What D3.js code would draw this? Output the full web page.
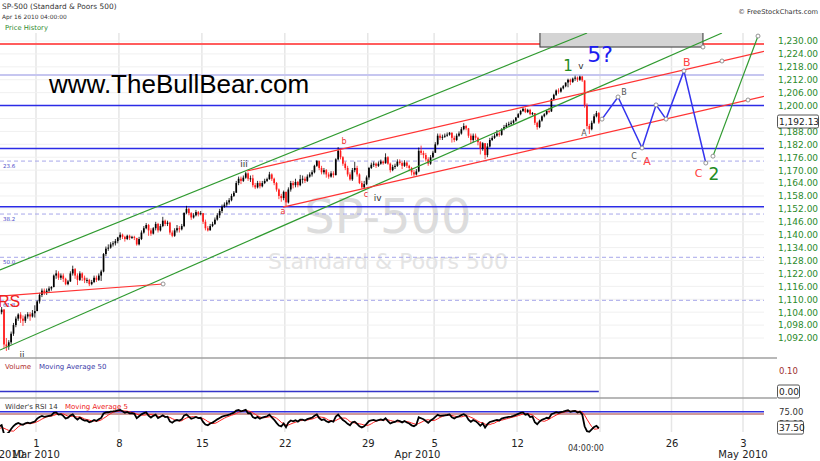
<!DOCTYPE html>
<html>
<head>
<meta charset="utf-8">
<script src="https://cdn.jsdelivr.net/npm/d3@7/dist/d3.min.js"></script>
<style>
body { margin: 0; background: #fff; }
svg { display: block; font-family: "DejaVu Sans", Verdana, sans-serif; }
</style>
</head>
<body>
<script>
// ---- data: hourly bars, 7 per session ----
// session index 0 = Mon Mar 1 2010 (negative = late Feb)
var sessions = d3.range(-5, 34);
var firstOpen = 1110.2;

var closes = [
  [1110,1111,1109,1110,1108,1107,1108.0],      // Feb 22
  [1104,1101,1099,1097,1098,1096,1094.6],      // Feb 23
  [1099,1101,1100,1102,1103,1104,1105.2],      // Feb 24
  [1089,1088,1090,1094,1098,1101,1102.9],      // Feb 25
  [1101,1100,1102,1103,1102,1103.5,1104.5],    // Feb 26
  [1109,1112,1114,1113,1114,1115,1115.7],      // Mar 1
  [1121,1122,1120,1121,1119.5,1117,1118.3],
  [1122,1124,1121,1119,1122,1120,1118.8],
  [1119,1117,1118,1120,1119,1121,1122.9],
  [1131,1133.5,1134,1135.5,1136,1137,1138.7],
  [1140,1139,1138,1139.5,1138.5,1139,1138.5],  // Mar 8
  [1135.5,1138,1141,1143,1144.5,1142,1140.5],
  [1143,1145,1142,1144,1146.5,1145,1145.6],
  [1141,1139.5,1142,1143,1142.5,1144,1150.2],
  [1152,1150,1148,1149,1150.5,1149.5,1150],
  [1146,1143,1142,1144,1145,1147,1149],        // Mar 15
  [1151,1153,1154,1155,1156,1158,1159.5],
  [1164,1166,1165,1166.5,1168.5,1166,1166.2],
  [1163,1162,1164,1162.5,1164,1165,1165.8],
  [1168,1166,1164,1161,1158,1157,1159.9],
  [1155,1161,1164,1163,1164.5,1163,1165.8],    // Mar 22
  [1166,1165,1167,1168,1169,1172,1174.2],
  [1171,1169,1170,1168,1167,1168.5,1167.7],
  [1175,1179,1176,1173,1171,1168,1165.7],
  [1170,1171,1168,1164,1162,1163.5,1166.6],
  [1171,1172.5,1173,1172,1173,1174,1173.2],    // Mar 29
  [1176,1173,1170,1171.5,1172,1174,1173.3],
  [1172,1173.5,1172,1171,1169,1168,1169.4],
  [1179,1178,1177,1175,1173,1176,1178.1],
  [1182,1186,1185,1185.5,1186,1186.5,1187.4],  // Apr 5
  [1185,1184,1186,1187,1189,1190.5,1189.4],
  [1186,1184,1186,1185,1183,1180,1182.5],
  [1177,1181,1184,1185,1186,1187,1186.4],
  [1189,1190,1191,1191.5,1192,1193,1194.4],
  [1196,1197.5,1198.5,1197,1198,1196,1196.5],  // Apr 12
  [1192,1190,1193,1195,1196,1197.5,1197.3],
  [1203,1205,1207,1206.5,1208,1209,1210.7],
  [1212,1211,1212.5,1213,1212,1213.5,1211.7],
  [1200,1190.5,1189,1192,1195,1196.5,1192.13]
];
var highs = [
  [1112.3,1112,1111.5,1111,1110.5,1108.5,1109],
  [1108.6,1105,1102,1100,1099,1099,1097],
  [1099.5,1102,1102,1103,1104,1105,1106.4],
  [1105.5,1092,1091,1095,1099,1102,1103.5],
  [1104,1102.5,1103,1104,1104,1105,1107.2],
  [1109.5,1113,1115,1115,1115,1116,1116.1],
  [1121.5,1123.5,1123,1122,1122,1120,1119],
  [1123,1125.6,1124.5,1122,1123,1122.5,1121],
  [1120,1119.5,1119,1121,1121,1122,1123.7],
  [1131.5,1134.5,1135.5,1136.5,1137,1138,1139],
  [1141.1,1140.5,1139.5,1140,1140,1139.5,1139.5],
  [1138.5,1139,1142,1144,1145.4,1145,1143],
  [1143.5,1146,1145.5,1145,1148.3,1147,1146.5],
  [1146,1142,1143,1144.5,1144,1145,1150.2],
  [1153.4,1152.5,1150.5,1150,1151.5,1151,1151],
  [1150,1147,1144,1145,1146,1148,1150],
  [1152,1154,1155,1156,1157,1159,1160.3],
  [1165,1167,1167,1167.5,1169.2,1169,1167.5],
  [1167.8,1164,1165,1165,1165,1166,1166.5],
  [1169.2,1168.5,1166.5,1164.5,1161.5,1159,1160.5],
  [1160,1162,1165,1165,1166,1165,1167.8],
  [1167.5,1167,1168,1169,1170,1172.5,1174.7],
  [1174.5,1172,1171,1170.5,1169,1169.5,1169.5],
  [1175.5,1180.7,1180,1176.5,1174,1172,1169],
  [1171,1173.9,1172,1168.5,1165,1165,1167.5],
  [1171.5,1173.5,1174,1173.5,1174,1174.9,1174.5],
  [1177.8,1176.5,1173.5,1172.5,1173,1175,1175],
  [1174,1174.6,1174,1172.5,1171.5,1170,1170.5],
  [1180.5,1181.4,1179,1178,1176,1177,1179],
  [1183,1187,1187,1186.5,1187,1187.5,1187.7],
  [1187.5,1186,1187,1188,1190,1191.8,1191],
  [1189.6,1187,1187,1187,1185.5,1183.5,1183],
  [1182.5,1182.5,1185,1186,1187,1188.6,1188],
  [1189.5,1191,1192,1192.5,1193,1193.5,1194.7],
  [1196.5,1198,1199.2,1199,1198.5,1198.5,1197],
  [1196.5,1192.5,1193.5,1195.5,1196.5,1198,1199],
  [1203.5,1205.5,1207.5,1208,1208.5,1209.5,1210.7],
  [1212.5,1212.5,1213,1213.9,1213.5,1213.9,1213.8],
  [1211.7,1201,1191.5,1193,1196,1197.5,1197]
];
var lows = [
  [1108,1109,1108,1108.5,1107,1105.4,1106.5],
  [1103,1100,1098,1096,1096,1094,1092.2],
  [1094.5,1098,1099,1099,1101,1102,1103],
  [1087,1086,1086.5,1089,1093,1097,1100],
  [1099,1097.6,1099,1101,1100,1101.5,1101.5],
  [1104.5,1108,1111,1112,1112,1113,1114],
  [1115.5,1119.5,1119,1119,1118,1116.5,1116.5],
  [1118,1121,1119.5,1116.6,1118.5,1118.5,1117.5],
  [1117.5,1116.1,1116.5,1117.5,1118,1118.5,1118.5],
  [1122.5,1130,1132.5,1133.5,1134.5,1135,1136],
  [1137.5,1138,1136.8,1137.5,1137.5,1138,1137.5],
  [1134.9,1135,1137.5,1140.5,1142.5,1139.5,1139.5],
  [1140.1,1142,1141,1141.5,1143.5,1144,1144],
  [1140,1138.8,1139,1141,1141,1142,1143.5],
  [1149.5,1149,1146.9,1147.5,1148.5,1148.5,1149],
  [1145,1142,1141.5,1142,1143.5,1144.5,1146.5],
  [1147.8,1150,1152.5,1153,1154,1155.5,1157.5],
  [1159.5,1163,1163.5,1164.5,1166,1165,1164.5],
  [1162,1161.2,1161.5,1161.5,1162,1163.5,1164.5],
  [1165.5,1165,1163,1160,1156.5,1155.3,1156],
  [1152.9,1154.5,1160,1161.5,1162,1162,1162.5],
  [1163.8,1164,1164.5,1166.5,1167,1168.5,1171.5],
  [1170,1168,1168,1166.5,1166,1166.5,1166.5],
  [1167.5,1174.5,1175,1172,1170,1167,1165.1],
  [1165,1169,1167,1163.5,1161.5,1161.5,1163],
  [1165.5,1170.5,1171.5,1171,1171.5,1172.5,1172.5],
  [1173,1172.5,1168.9,1169.5,1170.5,1171.5,1172.5],
  [1170.5,1171.5,1171,1169.5,1167.5,1167,1167.5],
  [1169,1177,1175.5,1174,1172,1172.5,1175.5],
  [1178,1181.5,1184,1184,1185,1185.5,1186],
  [1182.8,1183,1183.5,1185.5,1186.5,1188.5,1188.5],
  [1185,1182.5,1183,1184,1181.5,1177.3,1179],
  [1175.1,1176,1180.5,1183.5,1184.5,1185.5,1185.5],
  [1186,1188.5,1189.5,1190.5,1191,1191.5,1192.5],
  [1194.4,1195.5,1197,1196.5,1196.5,1195.5,1195.5],
  [1191,1188.8,1189.5,1192.5,1194.5,1195.5,1196.5],
  [1197,1202.5,1204.5,1205.5,1206,1207.5,1208.5],
  [1208.5,1209.5,1210.5,1211.5,1211,1211.5,1211],
  [1199,1189,1186.8,1188.5,1191.5,1194.5,1191.5]
];

// axis
var mondays = [0, 5, 10, 15, 20, 24, 29, 34, 39, 44];
var dayLabels = ["1", "8", "15", "22", "29", "5", "12", "", "26", "3"];
var monthNames = ["Feb 2010", "Mar 2010", "Apr 2010", "May 2010"];
var monthAt = [-2.11, 0, 23, 44];
var priceTicks = d3.range(1092, 1231, 6);
var lastPrice = 1192.13;
var lastRsi = 37.50;

// drawn tools (session, price)
var hLevels = [1228.6, 1214.2, 1200, 1180, 1153];
var hColors = ["#ff5c5c", "#c6c6f0", "#2b2be6", "#2b2be6", "#2b2be6"];
var fibLevels = [1174.2, 1149.6, 1129.5, 1109.5];
var fibNames = ["23.6", "38.2", "50.0", "61.8"];
var greenChannel = [
  [[-2.17, 1086.4], [42.53, 1233.7]],
  [[-2.17, 1123.6], [33.22, 1233.7]]
];
var redChannel = [
  [[12.72, 1169.6], [42.53, 1220.7]],
  [[14.89, 1152.8], [44.35, 1202.6]],
  [[-3.01, 1111.0], [7.66, 1117.1]]
];
var zigzag = [[34.14, 1193.7], [35.26, 1204.0], [36.94, 1180.3], [37.92, 1200.3],
              [38.62, 1193.7], [39.87, 1216.1], [41.40, 1173.3]];
var wave2 = [[41.90, 1176.5], [45.05, 1232.3]];
var box = [[30.38, 1227.2], [41.2, 1240]];
var waveLabels = [
  ["iii", 12.54, 1171.4, "#333", 9], ["ii", -0.84, 1082.6, "#333", 9],
  ["a", 14.89, 1149.6, "#ee3333", 8], ["b", 18.57, 1182.1, "#ee3333", 8],
  ["c", 19.89, 1157.5, "#ee3333", 8], ["iv", 20.6, 1155.6, "#333", 9],
  ["1", 32.07, 1216.1, "#228b22", 15], ["v", 32.85, 1217.0, "#333", 9],
  ["5?", 34.0, 1220.2, "#1c1cf0", 22], ["A", 33.04, 1185.8, "#555", 8],
  ["B", 35.68, 1204.9, "#555", 8], ["C", 36.38, 1175.2, "#555", 8],
  ["A", 37.29, 1172.4, "#ff4040", 11], ["B", 40.06, 1218.4, "#ff4040", 11],
  ["C", 40.9, 1166.8, "#ff4040", 11], ["2", 41.97, 1165.4, "#228b22", 17]
];

// ---- scales ----
var plotRight = 764;
var x = d3.scaleLinear().domain([0, 34, 44]).range([36, 600, 743]);
var y = d3.scaleLinear().domain([1092, 1230]).range([338, 41]);
var yVol = d3.scaleLinear().domain([0, 0.1]).range([391.5, 371]);
var yRsi = d3.scaleLinear().domain([50, 75]).range([423.3, 411.7]);

// flatten bars
var bars = [];
sessions.forEach(function(s, di) {
  for (var k = 0; k < 7; k++) {
    bars.push({ t: s + (k + 0.5) / 7, c: closes[di][k], h: highs[di][k], l: lows[di][k] });
  }
});
bars.forEach(function(b, i) {
  b.o = i === 0 ? firstOpen : bars[i - 1].c;
  b.h = Math.max(b.h, b.o, b.c);
  b.l = Math.min(b.l, b.o, b.c);
});

// Wilder's RSI 14 + 5 period average
var n = 14, g = 0, ls = 0;
for (var i = 1; i <= n; i++) {
  var d = bars[i].c - bars[i - 1].c;
  if (d > 0) g += d; else ls -= d;
}
g /= n; ls /= n;
bars[n].rsi = 100 - 100 / (1 + g / ls);
for (i = n + 1; i < bars.length; i++) {
  var dd = bars[i].c - bars[i - 1].c;
  g = (g * (n - 1) + Math.max(dd, 0)) / n;
  ls = (ls * (n - 1) + Math.max(-dd, 0)) / n;
  bars[i].rsi = ls === 0 ? 100 : 100 - 100 / (1 + g / ls);
}
for (i = n + 4; i < bars.length; i++) {
  bars[i].rsiMa = d3.mean(bars.slice(i - 4, i + 1), function(b) { return b.rsi; });
}

var svg = d3.select("body").append("svg").attr("width", 820).attr("height", 461);
var defs = svg.append("defs");
defs.append("clipPath").attr("id", "clipP").append("rect")
  .attr("x", 0).attr("y", 33).attr("width", plotRight).attr("height", 324);
defs.append("clipPath").attr("id", "clipR").append("rect")
  .attr("x", 0).attr("y", 399).attr("width", plotRight).attr("height", 34);

// header
svg.append("text").attr("x", 2).attr("y", 9).attr("font-size", 7.4).attr("fill", "#333")
  .text("SP-500 (Standard & Poors 500)");
svg.append("text").attr("x", 2).attr("y", 18.5).attr("font-size", 5.9).attr("fill", "#333")
  .text("Apr 16 2010 04:00:00");
svg.append("text").attr("x", 5).attr("y", 29.5).attr("font-size", 6.8).attr("fill", "#2e8b2e")
  .text("Price History");
svg.append("text").attr("x", 818).attr("y", 13.5).attr("font-size", 6.7).attr("fill", "#333")
  .attr("text-anchor", "end").text("\u00a9 FreeStockCharts.com");

// vertical grid through all panels
svg.append("g").selectAll("line").data(mondays).enter().append("line")
  .attr("x1", function(d) { return x(d); }).attr("x2", function(d) { return x(d); })
  .attr("y1", 33).attr("y2", 432)
  .attr("stroke", "#e6e6e6").attr("stroke-width", 1.5);

// price panel
var gp = svg.append("g").attr("clip-path", "url(#clipP)");
gp.selectAll(".hg").data(priceTicks).enter().append("line")
  .attr("x1", 0).attr("x2", plotRight)
  .attr("y1", function(d) { return y(d); }).attr("y2", function(d) { return y(d); })
  .attr("stroke", "#f0f0f0");

gp.append("text").attr("x", 388).attr("y", 233).attr("text-anchor", "middle")
  .attr("font-size", 48).attr("fill", "#dcdcdc").text("SP-500");
gp.append("text").attr("x", 388).attr("y", 269).attr("text-anchor", "middle")
  .attr("font-size", 22).attr("fill", "#e4e4e4").text("Standard & Poors 500");

// fib levels
gp.selectAll(".fib").data(fibLevels).enter().append("line")
  .attr("x1", 0).attr("x2", plotRight)
  .attr("y1", function(d) { return y(d); }).attr("y2", function(d) { return y(d); })
  .attr("stroke", "#a8a8ea").attr("stroke-dasharray", "4,3");
gp.selectAll(".fibt").data(fibLevels).enter().append("text")
  .attr("x", 3).attr("y", function(d) { return y(d) + 6.5; })
  .attr("font-size", 5.5).attr("fill", "#4a4ac8")
  .text(function(d, i) { return fibNames[i]; });

gp.selectAll(".hl").data(hLevels).enter().append("line")
  .attr("x1", 0).attr("x2", plotRight)
  .attr("y1", function(d) { return y(d); }).attr("y2", function(d) { return y(d); })
  .attr("stroke", function(d, i) { return hColors[i]; })
  .attr("stroke-width", function(d, i) { return i < 2 ? 2 : 1.5; });

// gray box
gp.append("rect")
  .attr("x", x(box[0][0])).attr("y", y(box[1][1]))
  .attr("width", x(box[1][0]) - x(box[0][0])).attr("height", y(box[0][1]) - y(box[1][1]))
  .attr("fill", "#d4d4d4").attr("stroke", "#333").attr("stroke-width", 1);

// candles
var cg = gp.append("g");
cg.selectAll(".wick").data(bars).enter().append("line")
  .attr("x1", function(b) { return x(b.t); }).attr("x2", function(b) { return x(b.t); })
  .attr("y1", function(b) { return y(b.h); }).attr("y2", function(b) { return y(b.l); })
  .attr("stroke", function(b) { return b.c >= b.o ? "#000" : "#ff1a1a"; }).attr("stroke-width", 0.8);
cg.selectAll(".body").data(bars).enter().append("rect")
  .attr("x", function(b) { return x(b.t) - 0.85; }).attr("width", 1.7)
  .attr("y", function(b) { return y(Math.max(b.o, b.c)); })
  .attr("height", function(b) { return Math.max(1, Math.abs(y(b.o) - y(b.c))); })
  .attr("fill", function(b) { return b.c >= b.o ? "#000" : "#ff1a1a"; });

// trend lines
function drawTrend(seg, color, extend) {
  var x1 = x(seg[0][0]), y1 = y(seg[0][1]), x2 = x(seg[1][0]), y2 = y(seg[1][1]);
  var xe = extend ? plotRight : x2;
  var ye = y1 + (y2 - y1) * (xe - x1) / (x2 - x1);
  gp.append("line").attr("x1", x1).attr("y1", y1).attr("x2", xe).attr("y2", ye)
    .attr("stroke", color).attr("stroke-width", 1.2);
}
greenChannel.forEach(function(s) { drawTrend(s, "#2f9a2f", false); });
redChannel.forEach(function(s, i) { drawTrend(s, "#ff3333", i < 2); });

var line = d3.line().x(function(d) { return x(d[0]); }).y(function(d) { return y(d[1]); });
gp.append("path").datum(zigzag).attr("d", line)
  .attr("fill", "none").attr("stroke", "#3434ee").attr("stroke-width", 1.5);
gp.append("path").datum(wave2).attr("d", line)
  .attr("fill", "none").attr("stroke", "#2f9a2f").attr("stroke-width", 1.2);

var markers = zigzag.concat(wave2, [redChannel[0][1], redChannel[1][1], redChannel[2][1], [box[1][0], box[0][1]]]);
gp.selectAll(".mk").data(markers).enter().append("circle")
  .attr("cx", function(d) { return x(d[0]); }).attr("cy", function(d) { return y(d[1]); })
  .attr("r", 2).attr("fill", "#fff").attr("stroke", "#888").attr("stroke-width", 0.9);

// wave labels
gp.selectAll(".wl").data(waveLabels).enter().append("text")
  .attr("x", function(d) { return x(d[1]); }).attr("y", function(d) { return y(d[2]); })
  .attr("text-anchor", "middle").attr("font-size", function(d) { return d[4]; })
  .attr("fill", function(d) { return d[3]; })
  .text(function(d) { return d[0]; });
gp.append("text").attr("x", x(-2.29)).attr("y", y(1106.4))
  .attr("font-size", 16).attr("fill", "#ee2222").attr("font-family", "Liberation Sans, sans-serif")
  .text("RS");

gp.append("text").attr("x", 49).attr("y", 93)
  .attr("font-family", "Liberation Sans, Arial, sans-serif").attr("font-size", 26)
  .attr("fill", "#000").text("www.TheBullBear.com");

// right price axis
var ax = svg.append("g").attr("transform", "translate(778,0)")
  .call(d3.axisRight(y).tickValues(priceTicks).tickFormat(d3.format(",.2f")).tickSize(0).tickPadding(0));
ax.select(".domain").remove();
ax.selectAll("text").attr("fill", "#2b8a2b").attr("font-size", 9).attr("font-family", "DejaVu Sans, sans-serif");

function valueBox(cx, cy, txt, w) {
  var g = svg.append("g");
  g.append("rect").attr("x", cx).attr("y", cy - 6.5).attr("width", w).attr("height", 13)
    .attr("rx", 1.5).attr("fill", "#fff").attr("stroke", "#444").attr("stroke-width", 0.9);
  g.append("text").attr("x", cx + 1.5).attr("y", cy + 3.3).attr("font-size", 9).attr("fill", "#222").text(txt);
}
valueBox(777.5, y(lastPrice) - 1, d3.format(",.2f")(lastPrice), 41);

// panel separators
[358, 398].forEach(function(v) {
  svg.append("line").attr("x1", 0).attr("x2", 777).attr("y1", v).attr("y2", v)
    .attr("stroke", "#a0a0a0").attr("stroke-width", 1.5);
});

// volume panel
svg.append("text").attr("x", 5).attr("y", 368.5).attr("font-size", 7).attr("fill", "#b03030").text("Volume");
svg.append("text").attr("x", 39).attr("y", 368.5).attr("font-size", 7).attr("fill", "#3a3aa8").text("Moving Average 50");
svg.append("line").attr("x1", 0).attr("x2", x(bars[bars.length - 1].t))
  .attr("y1", yVol(0)).attr("y2", yVol(0)).attr("stroke", "#3434c8").attr("stroke-width", 1.5);
svg.append("text").attr("x", 779).attr("y", yVol(0.1) + 3.3).attr("font-size", 8.5).attr("fill", "#a03030").text("0.10");
valueBox(777.5, yVol(0), "0.00", 22);

// RSI panel
svg.append("text").attr("x", 5).attr("y", 408.5).attr("font-size", 7).attr("fill", "#333").text("Wilder's RSI 14");
svg.append("text").attr("x", 65).attr("y", 408.5).attr("font-size", 7).attr("fill", "#ee2222").text("Moving Average 5");
svg.append("line").attr("x1", 0).attr("x2", plotRight).attr("y1", yRsi(70)).attr("y2", yRsi(70))
  .attr("stroke", "#d09a9a").attr("stroke-width", 2);
svg.append("line").attr("x1", 0).attr("x2", plotRight).attr("y1", yRsi(75)).attr("y2", yRsi(75))
  .attr("stroke", "#3030e0").attr("stroke-width", 1.5);
var gr = svg.append("g").attr("clip-path", "url(#clipR)");
gr.append("path").datum(bars.filter(function(b) { return b.rsiMa != null; }))
  .attr("d", d3.line().x(function(b) { return x(b.t); }).y(function(b) { return yRsi(b.rsiMa); }))
  .attr("fill", "none").attr("stroke", "#ff2020").attr("stroke-width", 1);
gr.append("path").datum(bars.filter(function(b) { return b.rsi != null; }))
  .attr("d", d3.line().x(function(b) { return x(b.t); }).y(function(b) { return yRsi(b.rsi); }))
  .attr("fill", "none").attr("stroke", "#000").attr("stroke-width", 1.8);
svg.append("text").attr("x", 779).attr("y", yRsi(75) + 3.5).attr("font-size", 8.5).attr("fill", "#333").text("75.00");
svg.append("text").attr("x", 779).attr("y", yRsi(50) + 3.5).attr("font-size", 8.5).attr("fill", "#333").text("50.00");
valueBox(777.5, yRsi(lastRsi) - 1.5, d3.format(".2f")(lastRsi), 26);

// bottom axis
var bx = svg.append("g").attr("transform", "translate(0,437)")
  .call(d3.axisBottom(x).tickValues(mondays).tickSize(0).tickPadding(3)
    .tickFormat(function(d, i) { return dayLabels[i]; }));
bx.select(".domain").remove();
bx.selectAll("text").attr("font-size", 10).attr("fill", "#222").attr("font-family", "DejaVu Sans, sans-serif");
svg.append("g").selectAll("text").data(monthNames).enter().append("text")
  .attr("x", function(d, i) { return x(monthAt[i]); }).attr("y", 458)
  .attr("text-anchor", "middle").attr("font-size", 10).attr("fill", "#222")
  .text(function(d) { return d; });
svg.append("text").attr("x", x(33.15)).attr("y", 451).attr("text-anchor", "middle")
  .attr("font-size", 8).attr("fill", "#333").text("04:00:00");
</script>
</body>
</html>
